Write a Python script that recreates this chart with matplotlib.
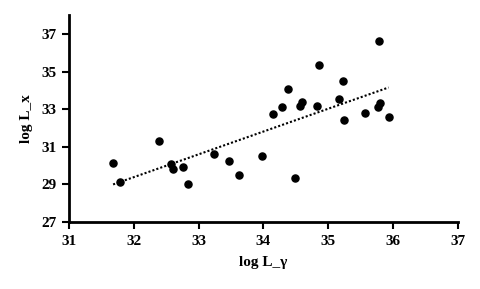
import numpy as np
import matplotlib.pyplot as plt

# Data
log_lgamma = [31.68, 31.78, 32.39, 32.58, 32.60, 32.76, 32.83, 33.23, 33.47, 33.63,
              33.98, 34.49, 34.14, 34.29, 34.38, 34.56, 34.60, 34.82, 34.85, 35.17,
              35.23, 35.25, 35.56, 35.77, 35.80, 35.79, 35.93]
log_lx = [30.15, 29.11, 31.29, 30.09, 29.80, 29.91, 29.00, 30.60, 30.23, 29.48,
          30.49, 29.32, 32.73, 33.10, 34.06, 33.19, 33.38, 33.15, 35.33, 33.53,
          34.48, 32.41, 32.78, 33.10, 33.31, 36.61, 32.57]

x_ticks = [31, 32, 33, 34, 35, 36, 37]
y_ticks = [27, 29, 31, 33, 35, 37]

plt.rcParams['font.family'] = ['Liberation Serif', 'DejaVu Serif']
plt.rcParams['font.weight'] = 'bold'

fig = plt.figure(figsize=(4.81, 2.89), dpi=100)
ax = fig.add_axes([0.1435, 0.2318, 0.8085, 0.716])

x = np.array(log_lgamma)
y = np.array(log_lx)

# linear trend line
m, b = np.polyfit(x, y, 1)
xs = np.array([x.min(), x.max()])
ax.plot(xs, m * xs + b, color='black', linestyle=(0, (1, 1)), linewidth=1.5)

ax.scatter(x, y, s=26, color='black', zorder=3)

ax.set_xlim(31, 37)
ax.set_ylim(27, 38)
ax.set_xticks(x_ticks)
ax.set_yticks(y_ticks)
ax.tick_params(direction='out', length=5, width=1.5, labelsize=11, pad=4)
for lab in ax.get_xticklabels() + ax.get_yticklabels():
    lab.set_fontweight('bold')

ax.spines['top'].set_visible(False)
ax.spines['right'].set_visible(False)
ax.spines['left'].set_linewidth(2)
ax.spines['bottom'].set_linewidth(2)

ax.set_xlabel('log L_γ', fontsize=11, fontweight='bold', labelpad=6)
ax.set_ylabel('log L_x', fontsize=11, fontweight='bold', labelpad=6)

plt.savefig('out.png', dpi=100)
